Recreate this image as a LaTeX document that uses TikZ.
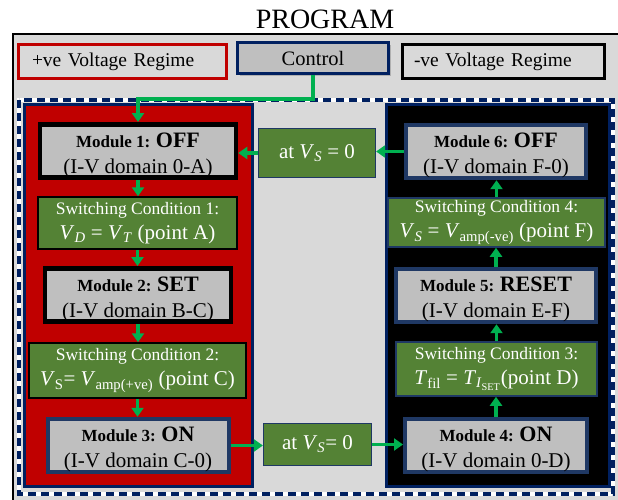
\documentclass[tikz,border=0pt]{standalone}
\usepackage{fontspec}
\setmainfont{Liberation Serif}
\usetikzlibrary{arrows.meta,shadows}
\definecolor{bgc}{HTML}{D9D9D9}
\definecolor{boxg}{HTML}{BFBFBF}
\definecolor{redp}{HTML}{C00000}
\definecolor{navy}{HTML}{002060}
\definecolor{navyb}{HTML}{1F3864}
\definecolor{olive}{HTML}{548235}
\definecolor{arrg}{HTML}{00B050}
\newcommand\myvv[2]{\textit{#1}\textsubscript{#2}}
\tikzset{
  bx/.style={inner sep=0pt, align=center, text=black},
  shad/.style={drop shadow={opacity=0.45, shadow xshift=2pt, shadow yshift=-2pt}},
  modblack/.style={bx, draw=black, line width=4.5pt, fill=boxg, shad,
    font=\fontsize{21}{26}\selectfont},
  modnavy/.style={bx, draw=navyb, line width=4pt, fill=boxg, shad,
    font=\fontsize{21}{26}\selectfont},
  condbox/.style={bx, draw=black, line width=1.5pt, fill=olive, text=white,
    font=\fontsize{21}{25}\selectfont},
  condnavy/.style={condbox, draw=navyb},
  atbox/.style={bx, draw=navyb, line width=1.2pt, fill=olive, text=white,
    font=\fontsize{21}{25}\selectfont},
  topbox/.style={bx, line width=3pt, fill=bgc, font=\fontsize{19.5}{22}\selectfont},
  arr/.style={draw=arrg, line width=3.5pt, -{Triangle[width=12pt,length=9pt]}},
  panel/.style={draw=navy, line width=3pt}
}
\newcommand\mymline[2]{{\rule{0pt}{23pt}\fontsize{17}{20}\selectfont\bfseries #1 {\fontsize{22}{22}\selectfont #2}}}
\newcommand\mycline[1]{{\fontsize{17.5}{20}\selectfont #1}}
\begin{document}
\begin{tikzpicture}[x=1pt,y=-1pt]
\useasboundingbox (0,0) rectangle (618,500);
% outer frame
\draw[line width=2pt, fill=bgc] (13,34) rectangle (621,503);
% title
\node[bx, font=\fontsize{28}{30}\selectfont] (title) at (325,19) {PROGRAM};
% top boxes
\node[topbox, draw=redp, minimum width=208pt, minimum height=34pt, text width=181pt, align=left] (pos) at (122.5,62) {+ve Voltage Regime};
\node[topbox, draw=black, minimum width=202pt, minimum height=34pt, text width=179pt, align=left] (neg) at (503.5,62) {-ve Voltage Regime};
\node[topbox, draw=navy, fill=boxg, shad, minimum width=151pt, minimum height=31pt, font=\fontsize{20.5}{22}\selectfont] (ctrl) at (313,58.5) {Control};
% dashed region
\draw[white, line width=3.5pt] (19,100) rectangle (613,494);
\draw[navy, line width=3.5pt, dash pattern=on 8pt off 5pt] (19,100) rectangle (613,494);
% panels
\draw[panel, fill=redp] (24,105) rectangle (252,486);
\draw[panel, fill=black] (386,105) rectangle (609,486);
% left column
\node[modblack, minimum width=196pt, minimum height=48pt] (m1) at (138,151) {\mymline{Module 1:}{OFF}\\(I-V domain 0-A)};
\node[condbox, minimum width=199pt, minimum height=52pt] (sc1) at (137.5,223) {\mycline{Switching Condition 1:}\\\myvv{V}{\textit{D}} = \myvv{V}{\textit{T}} (point A)};
\node[modblack, minimum width=186pt, minimum height=48pt] (m2) at (138,295) {\mymline{Module 2:}{SET}\\(I-V domain B-C)};
\node[condbox, minimum width=217pt, minimum height=55pt] (sc2) at (137.5,370.5) {\mycline{Switching Condition 2:}\\\myvv{V}{S}= \myvv{V}{amp(+ve)} (point C)};
\node[modnavy, minimum width=181pt, minimum height=51pt] (m3) at (138,445.5) {\mymline{Module 3:}{ON}\\(I-V domain C-0)};
% middle
\node[atbox, minimum width=117pt, minimum height=49pt] (atup) at (317,153) {at \myvv{V}{\textit{S}} = 0};
\node[atbox, minimum width=108pt, minimum height=42pt] (atlow) at (317.5,444.5) {at \myvv{V}{\textit{S}}= 0};
% right column
\node[modnavy, minimum width=180pt, minimum height=49pt] (m6) at (496,151.5) {\mymline{Module 6:}{OFF}\\(I-V domain F-0)};
\node[condnavy, minimum width=217pt, minimum height=49pt] (sc4) at (496.5,222.5) {\mycline{Switching Condition 4:}\\\myvv{V}{\textit{S}} = \myvv{V}{amp(-ve)} (point F)};
\node[modnavy, minimum width=200pt, minimum height=51pt] (m5) at (496,295.5) {\mymline{Module 5:}{RESET}\\(I-V domain E-F)};
\node[condnavy, minimum width=201pt, minimum height=54pt] (sc3) at (496.5,369) {\mycline{Switching Condition 3:}\\\myvv{T}{fil} = \textit{T}\textsubscript{\textit{I}\textsubscript{SET}}(point D)};
\node[modnavy, minimum width=182pt, minimum height=51pt] (m4) at (496,445.5) {\mymline{Module 4:}{ON}\\(I-V domain 0-D)};
% connectors
\coordinate (bend) at (138,99);
\draw[arr] (ctrl.south) |- (bend) -- (m1.north);
\draw[arr] (m1.south) -- (m1.south |- sc1.north);
\draw[arr] (sc1.south) -- (sc1.south |- m2.north);
\draw[arr] (m2.south) -- (m2.south |- sc2.north);
\draw[arr] (sc2.south) -- (sc2.south |- m3.north);
\draw[arr] (m3.east) -- (m3.east -| atlow.west);
\draw[arr] (atlow.east) -- (atlow.east -| m4.west);
\draw[arr] (m4.north) -- (m4.north |- sc3.south);
\draw[arr] (sc3.north) -- (sc3.north |- m5.south);
\draw[arr] (m5.north) -- (m5.north |- sc4.south);
\draw[arr] (sc4.north) -- (sc4.north |- m6.south);
\draw[arr] (m6.west) -- (m6.west -| atup.east);
\draw[arr] (atup.west) -- (atup.west -| m1.east);
\end{tikzpicture}
\end{document}
